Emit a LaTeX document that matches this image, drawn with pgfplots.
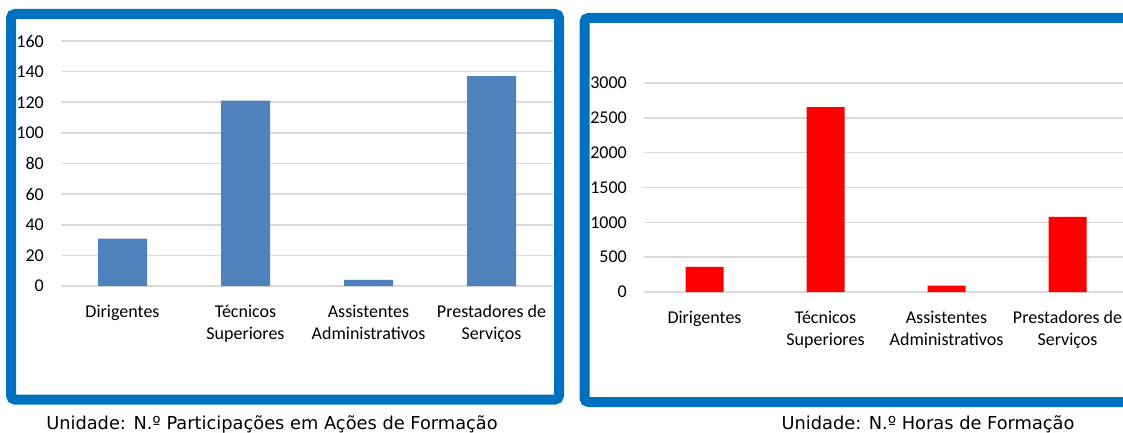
\documentclass[border=0pt]{standalone}
\usepackage{fontspec}
\setmainfont{Carlito}
\newfontfamily\capfont{DejaVu Sans}
\usepackage{pgfplots}
\pgfplotsset{compat=1.18}
\definecolor{frameblue}{HTML}{0070C0}
\definecolor{barblue}{HTML}{4F81BD}
\definecolor{barred}{HTML}{FF0000}
\definecolor{gridgrey}{HTML}{D9D9D9}
\pgfplotsset{
  mybar/.style={
    scale only axis,
    ybar,
    xmin=-0.5, xmax=3.5,
    ymin=0,
    axis line style={draw=none},
    xtick={0,1,2,3},
    xticklabels={Dirigentes, Técnicos\\Superiores, Assistentes\\Administrativos, Prestadores de\\Serviços},
    xticklabel style={align=center, font=\fontsize{18}{22}\selectfont, inner sep=0pt, yshift=-19pt},
    major tick length=0pt,
    ymajorgrids,
    grid style={gridgrey, line width=1.6pt},
    yticklabel style={font=\fontsize{18}{22}\selectfont, inner sep=0pt, xshift=-17pt},
    /pgf/number format/assume math mode=true,
    /pgf/number format/1000 sep={},
    enlarge x limits=false,
    enlarge y limits=false,
    clip=false,
  }
}
\begin{document}
\begin{tikzpicture}[x=1pt,y=1pt]
\useasboundingbox (0,0) rectangle (1123,432);
\clip (0,0) rectangle (1123,432);
% left chart
\begin{axis}[mybar,
  at={(61pt,146pt)}, anchor=south west,
  width=492pt, height=245pt,
  ymax=160, ytick={0,20,...,160},
  bar width=49pt]
\addplot[fill=barblue, draw=none] coordinates {(0,31) (1,121) (2,4) (3,137)};
\end{axis}
% right chart
\begin{axis}[mybar,
  at={(644pt,140pt)}, anchor=south west,
  width=484pt, height=209pt,
  ymax=3000, ytick={0,500,...,3000},
  bar width=38pt]
\addplot[fill=barred, draw=none] coordinates {(0,362) (1,2655) (2,90) (3,1078)};
\end{axis}
% frames
\draw[frameblue, line width=10pt, rounded corners=4pt] (11,418) rectangle (559,32.5);
\draw[frameblue, line width=10pt, rounded corners=4pt] (584.5,414) rectangle (1150,30);
% captions
\node[font=\capfont\fontsize{17.8}{20}\selectfont, anchor=base] at (272,3) {Unidade: N.º Participações em Ações de Formação};
\node[font=\capfont\fontsize{17.8}{20}\selectfont, anchor=base] at (928,3) {Unidade: N.º Horas de Formação};
\end{tikzpicture}
\end{document}
